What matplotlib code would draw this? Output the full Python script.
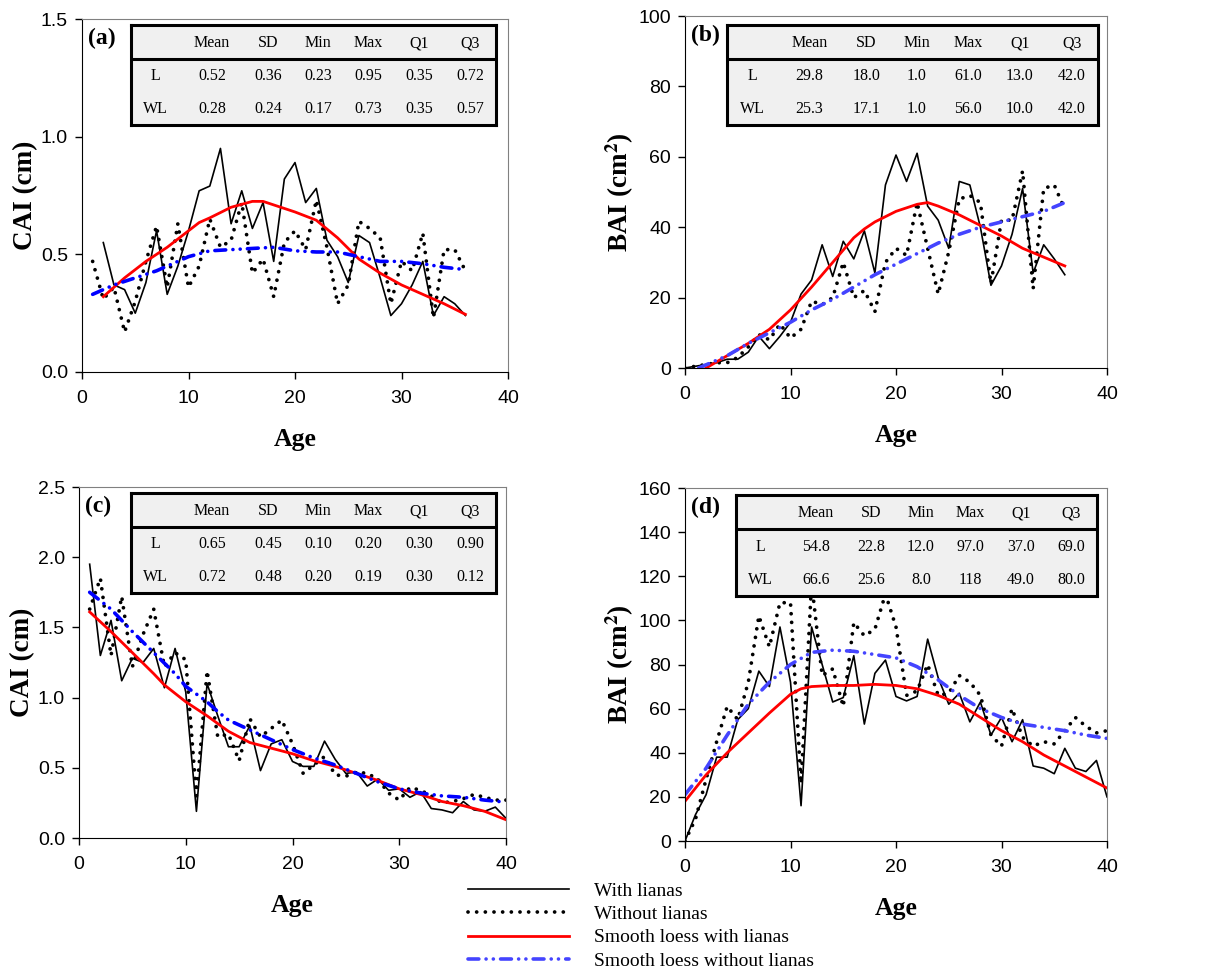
import numpy as np
import matplotlib
matplotlib.use('Agg')
import matplotlib.pyplot as plt

plt.rcParams['font.family'] = ['Liberation Serif', 'DejaVu Serif']
plt.rcParams['mathtext.fontset'] = 'stix'

# ---- data ----
# (a) CAI, first row
a_x_l = list(range(2, 37))
a_l = [0.55, 0.37, 0.35, 0.25, 0.38, 0.60, 0.33, 0.45, 0.60, 0.77, 0.79, 0.95, 0.63, 0.77,
       0.61, 0.72, 0.47, 0.82, 0.89, 0.72, 0.78, 0.56, 0.49, 0.38, 0.58, 0.55, 0.40, 0.24,
       0.29, 0.37, 0.47, 0.24, 0.32, 0.29, 0.24]
a_x_wl = list(range(1, 37))
a_wl = [0.47, 0.31, 0.36, 0.17, 0.30, 0.47, 0.62, 0.36, 0.63, 0.36, 0.45, 0.65, 0.53, 0.56,
        0.72, 0.42, 0.48, 0.32, 0.55, 0.60, 0.52, 0.73, 0.53, 0.29, 0.37, 0.64, 0.61, 0.57,
        0.29, 0.47, 0.43, 0.59, 0.23, 0.52, 0.52, 0.43]
a_sx_l = [2, 4, 6, 8, 10, 11, 12, 14, 16, 17, 18, 20, 22, 24, 26, 28, 30, 32, 34, 36]
a_s_l = [0.32, 0.40, 0.47, 0.53, 0.60, 0.635, 0.655, 0.70, 0.725, 0.725, 0.71, 0.68, 0.645,
         0.57, 0.48, 0.42, 0.37, 0.33, 0.29, 0.245]
a_sx_wl = [1, 3, 5, 7, 8, 9, 10, 12, 14, 16, 18, 20, 22, 24, 26, 28, 30, 32, 34, 36]
a_s_wl = [0.33, 0.37, 0.40, 0.43, 0.45, 0.47, 0.49, 0.515, 0.52, 0.525, 0.53, 0.515, 0.51,
          0.51, 0.49, 0.47, 0.47, 0.46, 0.445, 0.435]

# (b) BAI, first row
b_x = list(range(0, 37))
b_l = [0, 0.5, 1, 1.5, 2.5, 2.5, 4.5, 9, 5.5, 9, 13, 21, 25, 35, 26, 36, 31, 39, 27, 52,
       60.5, 53, 61, 46, 42, 34, 53, 52, 40, 23.5, 29, 38, 51, 27, 35, 31, 26.5]
b_wl = [0, 0.5, 1, 1.5, 1.5, 3, 6, 9.5, 8, 12.5, 8.5, 11, 19, 18, 20, 30, 20, 22, 16, 30,
        34, 32, 47, 34, 21, 33, 48, 49, 47, 24, 42, 42, 56, 22.5, 51, 52, 45]
b_sx_l = [2, 4, 6, 8, 10, 12, 14, 16, 17, 18, 20, 22, 23, 24, 26, 28, 30, 32, 34, 36]
b_s_l = [0, 3.5, 7, 11, 16.5, 23, 30, 37, 39.5, 41.5, 44.5, 46.5, 47, 46, 43.5, 40.5, 37.5,
         34, 31.5, 29]
b_sx_wl = [1.3, 4, 6, 8, 10, 12, 14, 16, 18, 20, 22, 24, 26, 28, 30, 32, 34, 36]
b_s_wl = [0, 3.5, 7, 10, 13, 16.5, 19.5, 23, 26.5, 29.5, 32.5, 35.5, 38, 40, 41.5, 43, 44.5, 47]

# (c) CAI, second row
c_x = list(range(1, 41))
c_l = [1.95, 1.30, 1.55, 1.12, 1.28, 1.25, 1.35, 1.07, 1.35, 1.04, 0.19, 1.10, 0.87, 0.65,
       0.65, 0.80, 0.48, 0.67, 0.70, 0.545, 0.51, 0.51, 0.69, 0.56, 0.46, 0.47, 0.37, 0.42,
       0.34, 0.35, 0.29, 0.33, 0.21, 0.20, 0.18, 0.26, 0.20, 0.19, 0.22, 0.14]
c_wl = [1.63, 1.85, 1.30, 1.72, 1.22, 1.45, 1.63, 1.22, 1.32, 1.27, 0.30, 1.19, 0.72, 0.74,
        0.55, 0.85, 0.72, 0.78, 0.84, 0.67, 0.46, 0.52, 0.58, 0.45, 0.44, 0.47, 0.46, 0.42,
        0.32, 0.27, 0.36, 0.34, 0.30, 0.25, 0.26, 0.28, 0.31, 0.29, 0.27, 0.27]
c_sx = [1, 3, 5, 7, 8, 10, 12, 14, 16, 18, 20, 22, 24, 26, 28, 30, 32, 34, 36, 38, 40]
c_s_l = [1.61, 1.47, 1.32, 1.17, 1.09, 0.97, 0.87, 0.76, 0.68, 0.64, 0.60, 0.55, 0.51, 0.46,
         0.41, 0.35, 0.31, 0.26, 0.23, 0.19, 0.13]
c_sx_wl = [1, 3, 5, 7, 9, 10, 12, 13, 14, 16, 18, 20, 22, 24, 26, 28, 30, 32, 34, 36, 38, 40]
c_s_wl = [1.75, 1.63, 1.47, 1.32, 1.17, 1.08, 0.97, 0.90, 0.84, 0.77, 0.70, 0.63, 0.57, 0.52,
          0.46, 0.40, 0.35, 0.32, 0.30, 0.29, 0.27, 0.255]

# (d) BAI, second row
d_x = list(range(0, 41))
d_l = [0, 12, 21, 38, 38, 55, 60, 77, 70, 97, 72, 16, 97, 80, 63, 65, 84, 53, 76, 82, 65.5,
       63.5, 65.5, 91.5, 74, 62, 67, 54, 63, 48, 56, 45, 55, 34, 33, 30.5, 42, 33, 31.5, 36.5, 20]
d_wl = [0, 10, 28, 45, 61, 55, 72, 102, 88, 108, 108, 26, 117, 75, 78, 61, 99, 93, 96, 112,
        97, 66, 68, 80, 66, 67, 75, 72, 66, 48, 43, 60, 47, 43, 45, 44, 50, 56, 52, 49, 50]
d_sx = [0, 2, 4, 6, 8, 10, 11, 12, 14, 16, 18, 20, 22, 24, 26, 28, 30, 32, 34, 36, 38, 40]
d_s_l = [18, 30, 40, 49, 58, 66.5, 69, 70, 70.5, 70.5, 71, 70.5, 69, 66, 62, 56, 50, 45, 39,
         34, 29, 24]
d_sx_wl = [0, 2, 4, 6, 8, 10, 12, 14, 16, 18, 20, 22, 24, 26, 28, 30, 32, 34, 36, 38, 40]
d_s_wl = [21, 33, 48, 62, 72, 80, 85.5, 86.5, 86, 84.5, 83, 79, 73, 66, 60, 56, 53, 51.5,
          50, 48, 46.5]

# summary tables
stat_cols = ['Mean', 'SD', 'Min', 'Max', 'Q1', 'Q3']
a_tab = {'L': ['0.52', '0.36', '0.23', '0.95', '0.35', '0.72'],
         'WL': ['0.28', '0.24', '0.17', '0.73', '0.35', '0.57']}
b_tab = {'L': ['29.8', '18.0', '1.0', '61.0', '13.0', '42.0'],
         'WL': ['25.3', '17.1', '1.0', '56.0', '10.0', '42.0']}
c_tab = {'L': ['0.65', '0.45', '0.10', '0.20', '0.30', '0.90'],
         'WL': ['0.72', '0.48', '0.20', '0.19', '0.30', '0.12']}
d_tab = {'L': ['54.8', '22.8', '12.0', '97.0', '37.0', '69.0'],
         'WL': ['66.6', '25.6', '8.0', '118', '49.0', '80.0']}

W, H = 1205, 971
fig = plt.figure(figsize=(W / 100, H / 100), dpi=100)


def px_rect(x0, y0, x1, y1):
    # pixel box (top-left origin) -> figure fraction rect
    return [x0 / W, 1 - y1 / H, (x1 - x0) / W, (y1 - y0) / H]


DOT = (0, (0.01, 2.3))
DDOT = (0, (3.0, 2.0, 0.01, 2.0, 0.01, 2.0))


def panel(rect, xs_l, yl, xs_wl, ywl, sx_l, sl, sx_wl, swl, ylim, ystep, yfmt, ylabel,
          tag, blue, tab, tab_px):
    ax = fig.add_axes(px_rect(*rect))
    h1, = ax.plot(xs_l, yl, color='black', lw=1.2, label='With lianas')
    h2, = ax.plot(xs_wl, ywl, color='black', lw=2.7, linestyle=DOT,
                  dash_capstyle='round', label='Without lianas')
    h3, = ax.plot(sx_l, sl, color='#ff0000', lw=2.0, label='Smooth loess with lianas')
    h4, = ax.plot(sx_wl, swl, color=blue, lw=2.6, linestyle=DDOT,
                  dash_capstyle='round', label='Smooth loess without lianas')
    ax.set_xlim(0, 40)
    ax.set_ylim(0, ylim)
    ax.set_xticks(np.arange(0, 41, 10))
    ax.set_yticks(np.arange(0, ylim + ystep / 2, ystep))
    ax.set_yticklabels([yfmt.format(v) for v in np.arange(0, ylim + ystep / 2, ystep)])
    ax.tick_params(direction='out', length=5, width=1, labelsize=14)
    ax.tick_params(axis='x', pad=8)
    ax.tick_params(axis='y', pad=5)
    for lab in ax.get_xticklabels() + ax.get_yticklabels():
        lab.set_family('Liberation Sans')
    for s in ['top', 'right']:
        ax.spines[s].set_color('#808080')
    ax.set_xlabel('Age', fontsize=18.5, fontweight='bold', labelpad=15)
    ax.set_ylabel(ylabel, fontsize=19.5, fontweight='bold', labelpad=2)
    ax.text(0.014, 0.975, tag, transform=ax.transAxes, fontsize=17, fontweight='bold',
            va='top', ha='left')

    # stats table
    t = fig.add_axes(px_rect(*tab_px), zorder=5)
    t.set_xlim(0, 1)
    t.set_ylim(0, 1)
    t.set_xticks([])
    t.set_yticks([])
    t.set_facecolor('#f0f0f0')
    for s in t.spines.values():
        s.set_linewidth(2.2)
        s.set_color('black')
    t.axhline(0.66, color='black', lw=2.2)
    colx = [0.068, 0.222, 0.375, 0.512, 0.649, 0.789, 0.929]
    for cx, name in zip(colx[1:], stat_cols):
        t.text(cx, 0.82, name, ha='center', va='center', fontsize=11.5)
    for ry, key in zip([0.49, 0.16], ['L', 'WL']):
        t.text(colx[0], ry, key, ha='center', va='center', fontsize=11.5)
        for cx, v in zip(colx[1:], tab[key]):
            t.text(cx, ry, v, ha='center', va='center', fontsize=11.5)
    return [h1, h2, h3, h4]


panel((82, 19, 508, 372), a_x_l, a_l, a_x_wl, a_wl, a_sx_l, a_s_l, a_sx_wl, a_s_wl,
      1.5, 0.5, '{:.1f}', 'CAI (cm)', '(a)', '#0000ff', a_tab, (131, 25, 496, 125))
handles = panel((685, 16, 1107, 368), b_x, b_l, b_x, b_wl, b_sx_l, b_s_l, b_sx_wl, b_s_wl,
                100, 20, '{:.0f}', r'BAI (cm$^{\mathbf{2}}$)', '(b)', '#4444ff', b_tab,
                (727, 25, 1098, 125))
panel((79, 487, 506, 838), c_x, c_l, c_x, c_wl, c_sx, c_s_l, c_sx_wl, c_s_wl,
      2.5, 0.5, '{:.1f}', 'CAI (cm)', '(c)', '#0000ff', c_tab, (131, 493, 496, 593))
panel((685, 488, 1107, 841), d_x, d_l, d_x, d_wl, d_sx, d_s_l, d_sx_wl, d_s_wl,
      160, 20, '{:.0f}', r'BAI (cm$^{\mathbf{2}}$)', '(d)', '#4444ff', d_tab, (736, 495, 1097, 596))

fig.legend(handles=handles, loc='upper left', bbox_to_anchor=(468 / W, 1 - 882 / H),
           frameon=False, fontsize=14, handlelength=5.2, handletextpad=1.3,
           labelspacing=0.3, borderpad=0, borderaxespad=0)

fig.savefig('out.png', dpi=100)
